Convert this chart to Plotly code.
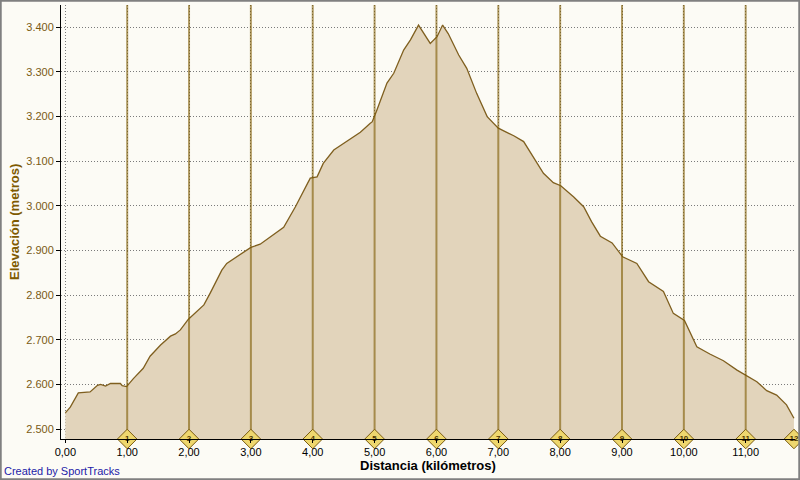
import plotly.graph_objects as go

# Profile data: distance (km) and elevation (m)
distance_km = [0.00, 0.08, 0.21, 0.40, 0.52, 0.57, 0.65, 0.73, 0.89, 0.92, 0.99,
               1.10, 1.26, 1.37, 1.54, 1.70, 1.78, 1.86, 1.99, 2.24, 2.34, 2.53,
               2.61, 2.78, 3.00, 3.15, 3.31, 3.53, 3.72, 3.83, 3.96, 4.07, 4.17,
               4.34, 4.44, 4.61, 4.77, 4.93, 4.96, 5.03, 5.20, 5.31, 5.47, 5.58,
               5.71, 5.90, 6.01, 6.10, 6.19, 6.36, 6.49, 6.65, 6.82, 7.00, 7.25,
               7.41, 7.57, 7.73, 7.89, 8.01, 8.22, 8.38, 8.51, 8.65, 8.84, 9.01,
               9.24, 9.43, 9.67, 9.83, 10.01, 10.21, 10.42, 10.64, 10.86, 11.00,
               11.18, 11.34, 11.50, 11.66, 11.78]
elevation_m = [2536, 2549, 2581, 2583, 2598, 2600, 2596, 2602, 2602, 2597, 2595,
               2613, 2636, 2663, 2688, 2708, 2713, 2722, 2746, 2778, 2804, 2856,
               2871, 2886, 2907, 2914, 2930, 2952, 2998, 3028, 3062, 3065, 3095,
               3125, 3134, 3150, 3165, 3185, 3188, 3212, 3275, 3297, 3349, 3372,
               3405, 3364, 3379, 3405, 3386, 3338, 3308, 3252, 3200, 3174, 3157,
               3144, 3107, 3073, 3052, 3045, 3020, 2998, 2964, 2932, 2917, 2886,
               2871, 2830, 2808, 2759, 2743, 2684, 2668, 2653, 2632, 2621,
               2606, 2586, 2576, 2554, 2524]

# Kilometre markers
marker_km = [1, 2, 3, 4, 5, 6, 7, 8, 9, 10, 11, 11.78]
marker_labels = ["1", "2", "3", "4", "5", "6", "7", "8", "9", "10", "11", "12"]
line_km = [1, 2, 3, 4, 5, 6, 7, 8, 9, 10, 11]

x_range = [-0.07, 11.797]
y_range = [2477.6, 3450]

fig = go.Figure()

fig.add_trace(go.Scatter(
    x=distance_km, y=elevation_m, mode="lines",
    line=dict(color="#7F5F1F", width=1.3),
    fill="tozeroy", fillcolor="#E2D4BB",
    hoverinfo="skip", showlegend=False,
))

# vertical kilometre lines
lx, ly = [], []
for k in line_km:
    lx += [k, k, None]
    ly += [y_range[0], y_range[1], None]
fig.add_trace(go.Scatter(
    x=lx, y=ly, mode="lines",
    line=dict(color="rgba(125,90,0,0.6)", width=2),
    hoverinfo="skip", showlegend=False,
))

fig.add_trace(go.Scatter(
    x=marker_km, y=[y_range[0]] * len(marker_km),
    mode="markers+text", text=["<b>%s</b>" % t for t in marker_labels],
    textposition="middle center",
    textfont=dict(family="Liberation Sans", size=8, color="#4A3500"),
    marker=dict(symbol="diamond", size=15, color="#EED76E",
                line=dict(color="#7A5C10", width=1)),
    cliponaxis=False, hoverinfo="skip", showlegend=False,
))

fig.update_layout(
    width=800, height=480,
    margin=dict(l=61, r=5, t=5, b=41),
    paper_bgcolor="#FCFBF5", plot_bgcolor="#FCFBF5",
    separators=",.",
    font=dict(family="Liberation Sans", size=11, color="#000000"),
    xaxis=dict(
        range=x_range, tick0=0, dtick=1, tickformat=".2f",
        showgrid=True, gridcolor="#7A7A7A", griddash="1px,2px", gridwidth=1,
        showline=True, linecolor="#000000", linewidth=1,
        ticks="outside", ticklen=3, tickcolor="#000000",
        tickfont=dict(family="Liberation Sans", size=11, color="#000000"),
        zeroline=False,
    ),
    yaxis=dict(
        range=y_range, tick0=2500, dtick=100, tickformat=",.0f",
        showgrid=True, gridcolor="#7A7A7A", griddash="1px,2px", gridwidth=1,
        showline=True, linecolor="#000000", linewidth=1,
        ticks="outside", ticklen=4, tickcolor="#000000",
        tickfont=dict(family="Liberation Sans", size=11, color="#7A5A14"),
        zeroline=False,
    ),
    annotations=[
        dict(text="<b>Distancia (kilómetros)</b>", xref="paper", yref="paper",
             x=0.5, y=-0.062, xanchor="center", yanchor="middle", showarrow=False,
             font=dict(family="Liberation Sans", size=13, color="#000000")),
        dict(text="<b>Elevación (metros)</b>", xref="paper", yref="paper",
             x=-0.064, y=0.5, xanchor="center", yanchor="middle", showarrow=False,
             textangle=-90,
             font=dict(family="Liberation Sans", size=13, color="#7F5A00")),
        dict(text="Created by SportTracks", xref="paper", yref="paper",
             x=-0.081, y=-0.0737, xanchor="left", yanchor="middle", showarrow=False,
             font=dict(family="Liberation Sans", size=11, color="#1C1CA8")),
    ],
    shapes=[
        dict(type="rect", xref="paper", yref="paper",
             x0=-61 / 734 + 0.001, x1=1 + 5 / 734 - 0.001,
             y0=-41 / 434 + 0.002, y1=1 + 5 / 434 - 0.002,
             line=dict(color="#808080", width=2), layer="above"),
    ],
)

fig.write_html("out.html",
               config={"displayModeBar": False},
               post_script="document.body.style.margin='0';document.body.style.overflow='hidden';")
